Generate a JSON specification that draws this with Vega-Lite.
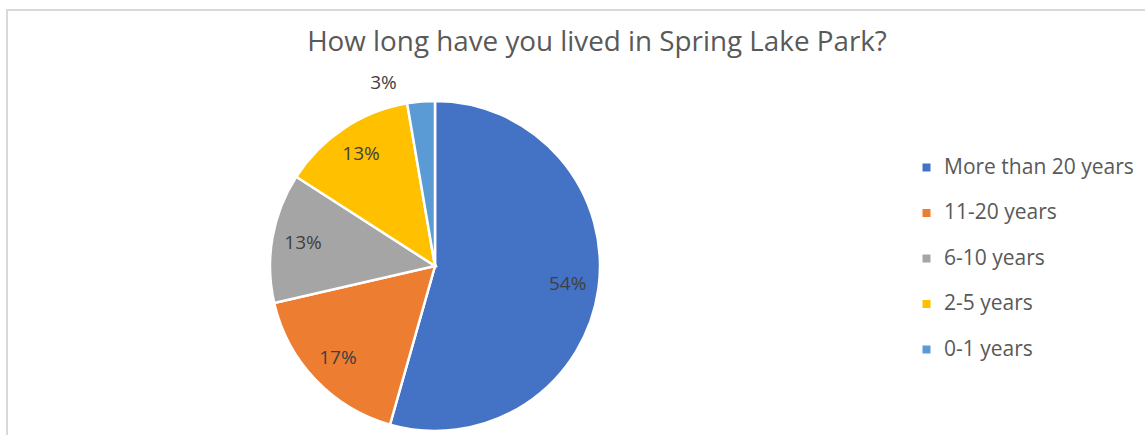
{
  "$schema": "https://vega.github.io/schema/vega-lite/v6.json",
  "autosize": "none",
  "width": 1140,
  "height": 430,
  "padding": {"left": 7, "top": 10, "right": 0, "bottom": 0},
  "background": "white",
  "view": {"stroke": "#d9d9d9", "strokeWidth": 2},
  "config": {
    "view": {"stroke": "#d9d9d9", "strokeWidth": 2},
    "font": "Open Sans"
  },
  "title": {
    "text": "How long have you lived in Spring Lake Park?",
    "font": "Open Sans",
    "fontSize": 27.8,
    "fontWeight": "normal",
    "color": "#595959",
    "anchor": "middle",
    "baseline": "alphabetic",
    "offset": 0,
    "dy": 69,
    "dx": 20
  },
  "data": {
    "values": [
      {"category": "More than 20 years", "share": 0.544, "rank": 1},
      {"category": "11-20 years", "share": 0.170, "rank": 2},
      {"category": "6-10 years", "share": 0.127, "rank": 3},
      {"category": "2-5 years", "share": 0.132, "rank": 4},
      {"category": "0-1 years", "share": 0.027, "rank": 5}
    ]
  },
  "encoding": {
    "theta": {"field": "share", "type": "quantitative", "stack": true},
    "order": {"field": "rank", "type": "quantitative", "sort": "ascending"}
  },
  "layer": [
    {
      "mark": {"type": "arc", "x": 428, "y": 256, "outerRadius": 165, "stroke": "white", "strokeWidth": 2.5},
      "encoding": {
        "color": {
          "field": "category",
          "type": "nominal",
          "sort": ["More than 20 years", "11-20 years", "6-10 years", "2-5 years", "0-1 years"],
          "scale": {
            "domain": ["More than 20 years", "11-20 years", "6-10 years", "2-5 years", "0-1 years"],
            "range": ["#4472C4", "#ED7D31", "#A5A5A5", "#FFC000", "#5B9BD5"]
          },
          "legend": {
            "title": null,
            "orient": "none",
            "legendX": 909,
            "legendY": 147,
            "symbolType": "square",
            "symbolSize": 64,
            "symbolStrokeWidth": 0,
            "labelFont": "Open Sans",
            "labelFontSize": 21,
            "labelColor": "#595959",
            "labelOffset": 7,
            "rowPadding": 23.5,
            "labelLimit": 300
          }
        }
      }
    },
    {
      "mark": {"type": "text", "x": 428, "y": 256, "radius": 134, "font": "Open Sans", "fontSize": 19, "color": "#404040"},
      "encoding": {
        "text": {"field": "share", "type": "quantitative", "format": ".0%"},
        "opacity": {"condition": {"test": "datum.category === '0-1 years'", "value": 0}, "value": 1}
      }
    },
    {
      "mark": {"type": "text", "x": 428, "y": 256, "radius": 190, "thetaOffset": -0.19, "font": "Open Sans", "fontSize": 19, "color": "#404040"},
      "encoding": {
        "text": {"field": "share", "type": "quantitative", "format": ".0%"},
        "opacity": {"condition": {"test": "datum.category === '0-1 years'", "value": 1}, "value": 0}
      }
    }
  ]
}
